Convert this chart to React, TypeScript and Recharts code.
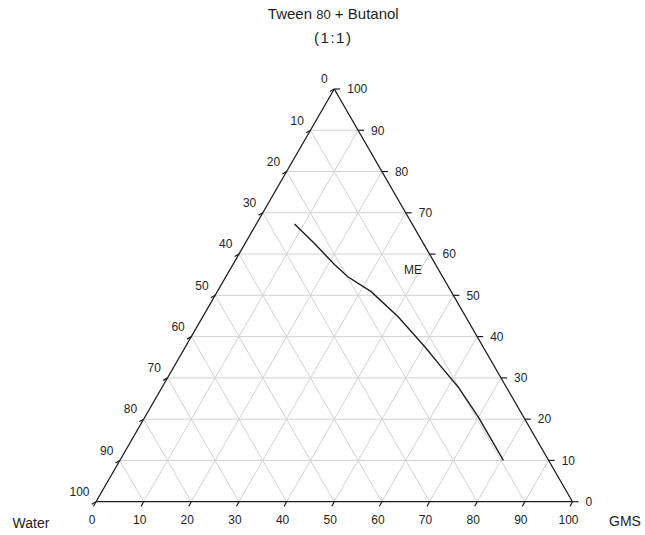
import React from 'react';
import { ComposedChart, XAxis, YAxis, Scatter, ReferenceLine } from 'recharts';

// Ternary diagram: Tween 80 + Butanol (1:1) / Water / GMS, all in % w/w
const SQ3_2 = Math.sqrt(3) / 2;
const tickValues = [0, 10, 20, 30, 40, 50, 60, 70, 80, 90, 100];
const gridValues = [10, 20, 30, 40, 50, 60, 70, 80, 90];

// Phase boundary of the microemulsion (ME) region
const boundaryTween = [67.3, 62.6, 57.4, 54.5, 50.9, 44.8, 37.5, 32.6, 27.8, 20.5, 14.8, 10.0];
const boundaryGms = [8.0, 14.5, 21.4, 25.6, 32.3, 41.0, 50.3, 56.2, 62.1, 70.0, 75.7, 80.5];

// Region label position (Tween+Butanol, GMS)
const regionLabel = { text: 'ME', tween: 56.1, gms: 38.5 };

const FONT = '"Liberation Sans", Arial, sans-serif';
const INK = '#1e1e1e';
const GRID = '#d2d2d2';

// Map (tween, gms) composition to planar coordinates of an equilateral triangle
const project = (tween: number, gms: number) => ({ x: gms + tween / 2, y: tween * SQ3_2 });

type Seg = [{ x: number; y: number }, { x: number; y: number }];

const gridSegments: Seg[] = [];
gridValues.forEach((v) => {
  // constant Tween + Butanol
  gridSegments.push([project(v, 0), project(v, 100 - v)]);
  // constant GMS
  gridSegments.push([project(0, v), project(100 - v, v)]);
  // constant Water
  gridSegments.push([project(0, 100 - v), project(100 - v, 0)]);
});

const edges: Seg[] = [
  [project(0, 0), project(0, 100)],
  [project(0, 100), project(100, 0)],
  [project(100, 0), project(0, 0)],
];

const boundary = boundaryTween.map((t, i) => project(t, boundaryGms[i]));

type TickPt = { x: number; y: number; tx: number; ty: number };
type LabelPt = {
  x: number;
  y: number;
  text: string;
  dx: number;
  dy: number;
  anchor: 'start' | 'middle' | 'end';
  size: number;
  small?: string;
  spacing?: number;
};

const ticks: TickPt[] = [];
const labels: LabelPt[] = [];

tickValues.forEach((v) => {
  // bottom axis: GMS
  const b = project(0, v);
  ticks.push({ ...b, tx: -2.5, ty: 4.5 });
  labels.push({ ...b, text: String(v), dx: -4, dy: 18, anchor: 'middle', size: 12 });
  // left axis: Water
  const l = project(100 - v, 0);
  ticks.push({ ...l, tx: -4.3, ty: 2.5 });
  labels.push({ ...l, text: String(v), dx: -6.5, dy: -10, anchor: 'end', size: 12 });
  // right axis: Tween 80 + Butanol
  const r = project(v, 100 - v);
  ticks.push({ ...r, tx: 6, ty: 0 });
  labels.push({ ...r, text: String(v), dx: 13, dy: 0, anchor: 'start', size: 12 });
});

const top = project(100, 0);
const left = project(0, 0);
const right = project(0, 100);

labels.push({ ...top, text: 'Tween ', small: '80', dx: -1, dy: -75, anchor: 'middle', size: 15 });
labels.push({ ...top, text: '(1:1)', dx: -1, dy: -51, anchor: 'middle', size: 15, spacing: 1.5 });
labels.push({ ...left, text: 'Water', dx: -65, dy: 21, anchor: 'middle', size: 14 });
labels.push({ ...right, text: 'GMS', dx: 52.5, dy: 19.5, anchor: 'middle', size: 14 });
labels.push({
  ...project(regionLabel.tween, regionLabel.gms),
  text: regionLabel.text,
  dx: 0,
  dy: 0,
  anchor: 'middle',
  size: 12,
});

const TickShape = (props: any) => {
  const { cx, cy, payload } = props;
  return (
    <line x1={cx} y1={cy} x2={cx + payload.tx} y2={cy + payload.ty} stroke={INK} strokeWidth={1.2} />
  );
};

// Text centred vertically on its anchor; baseline placed at roughly 0.36em below centre
const LabelShape = (props: any) => {
  const { cx, cy, payload } = props;
  return (
    <text
      x={cx + payload.dx}
      y={cy + payload.dy + payload.size * 0.36}
      textAnchor={payload.anchor}
      fontFamily={FONT}
      fontSize={payload.size}
      letterSpacing={payload.spacing ?? 0}
      fill={INK}
    >
      {payload.text}
      {payload.small ? (
        <>
          <tspan fontSize={payload.size - 2}>{payload.small}</tspan>
          <tspan> + Butanol</tspan>
        </>
      ) : null}
    </text>
  );
};

const Empty = () => <g />;

export default function App() {
  return (
    <div style={{ position: 'absolute', left: 0, top: 0, width: 645, height: 535, background: '#fff' }}>
      <ComposedChart
        width={645}
        height={535}
        margin={{ top: 89, right: 72.5, bottom: 33.3, left: 96 }}
      >
        <XAxis type="number" dataKey="x" domain={[0, 100]} hide />
        <YAxis type="number" dataKey="y" domain={[0, 100 * SQ3_2]} hide />
        {gridSegments.map((s, i) => (
          <ReferenceLine key={`g${i}`} segment={s} stroke={GRID} strokeWidth={1} ifOverflow="visible" />
        ))}
        {edges.map((s, i) => (
          <ReferenceLine key={`e${i}`} segment={s} stroke={INK} strokeWidth={1.3} ifOverflow="visible" />
        ))}
        <Scatter
          data={boundary}
          line={{ stroke: INK, strokeWidth: 1.4 }}
          lineType="joint"
          shape={Empty}
          isAnimationActive={false}
        />
        <Scatter data={ticks} shape={TickShape} isAnimationActive={false} />
        <Scatter data={labels} shape={LabelShape} isAnimationActive={false} />
      </ComposedChart>
    </div>
  );
}
